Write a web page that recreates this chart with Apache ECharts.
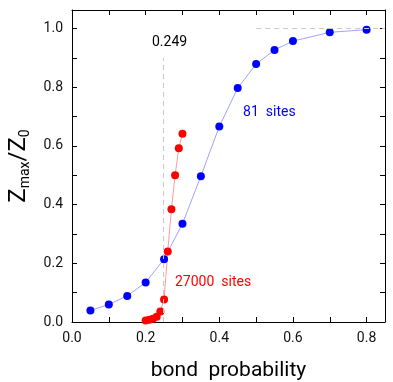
<!DOCTYPE html>
<html>
<head>
<meta charset="utf-8">
<script src="https://cdn.jsdelivr.net/npm/echarts@6/dist/echarts.min.js"></script>
<style>
  html, body { margin: 0; padding: 0; background: #fff; }
  #chart { width: 393px; height: 382px; }
</style>
</head>
<body>
<div id="chart"></div>
<script>
// bond probability vs Zmax/Z0
const smallP = [0.05, 0.10, 0.15, 0.20, 0.25, 0.30, 0.35, 0.40, 0.45, 0.50, 0.55, 0.60, 0.70, 0.80]
const smallZ = [0.039, 0.060, 0.089, 0.135, 0.214, 0.335, 0.497, 0.666, 0.797, 0.879, 0.927, 0.957, 0.987, 0.996]
const largeP = [0.20, 0.21, 0.22, 0.23, 0.24, 0.25, 0.26, 0.27, 0.28, 0.29, 0.30]
const largeZ = [0.005, 0.008, 0.011, 0.018, 0.036, 0.077, 0.240, 0.384, 0.500, 0.592, 0.641]
const pc = 0.249

const font = 'Roboto'
let chart = echarts.init(document.getElementById('chart'))

function pairs (xs, ys) {
  return xs.map((x, i) => [x, ys[i]])
}

function evenLabel (v) {
  let k = Math.round(v * 10)
  if (Math.abs(v * 10 - k) > 1e-6 || k % 2 !== 0) return ''
  return v.toFixed(1)
}

function textMark (text, coord, color) {
  return {
    coord: coord,
    symbol: 'circle',
    symbolSize: 0,
    label: { show: true, position: 'inside', formatter: text, color: color, fontSize: 14, fontFamily: font }
  }
}

let axisLine = { show: true, onZero: false, lineStyle: { color: '#000', width: 1 } }
let axisTick = { show: true, inside: true, length: 5, lineStyle: { color: '#000' } }

let option = {
  animation: false,
  grid: { left: 72, right: 8, top: 10, bottom: 60, containLabel: false, outerBoundsMode: 'none' },
  xAxis: [
    {
      type: 'value', min: 0, max: 0.85, interval: 0.1,
      axisLine: axisLine, axisTick: axisTick, splitLine: { show: false },
      axisLabel: { formatter: evenLabel, color: '#111', fontSize: 14, fontFamily: font, margin: 9 },
      name: 'bond  probability', nameLocation: 'middle', nameGap: 38,
      nameTextStyle: { color: '#000', fontSize: 21, fontFamily: font }
    },
    {
      type: 'value', position: 'top', min: 0, max: 0.85, interval: 0.1,
      axisLine: axisLine, axisTick: axisTick, splitLine: { show: false },
      axisLabel: { show: false }
    }
  ],
  yAxis: [
    {
      type: 'value', min: 0, max: 1.063, interval: 0.1,
      axisLine: axisLine, axisTick: axisTick, splitLine: { show: false },
      axisLabel: { formatter: evenLabel, color: '#111', fontSize: 14, fontFamily: font, margin: 9 },
      name: '{a|Z}{s|max}{a|/Z}{s|0}', nameLocation: 'middle', nameGap: 40,
      nameTextStyle: {
        color: '#000',
        rich: {
          a: { fontSize: 24, fontFamily: font, color: '#000', lineHeight: 26 },
          s: { fontSize: 14, fontFamily: font, color: '#000', verticalAlign: 'bottom', lineHeight: 20 }
        }
      }
    },
    {
      type: 'value', position: 'right', min: 0, max: 1.063, interval: 0.1,
      axisLine: axisLine, axisTick: axisTick, splitLine: { show: false },
      axisLabel: { show: false }
    }
  ],
  series: [
    {
      name: '81 sites',
      type: 'line',
      data: pairs(smallP, smallZ),
      symbol: 'circle',
      symbolSize: 8,
      itemStyle: { color: '#0000ff' },
      lineStyle: { color: '#a0a0ff', width: 1 },
      markLine: {
        silent: true, symbol: 'none',
        lineStyle: { color: '#c8c8c8', type: [5, 4], width: 1 },
        label: { show: false },
        data: [
          [{ coord: [pc, 0] }, { coord: [pc, 0.9] }],
          [{ coord: [0.5, 1.0] }, { coord: [0.85, 1.0] }]
        ]
      },
      markPoint: {
        silent: true,
        data: [
          textMark('0.249', [0.265, 0.952], '#000'),
          textMark('81  sites', [0.536, 0.714], '#0000ff')
        ]
      }
    },
    {
      name: '27000 sites',
      type: 'line',
      data: pairs(largeP, largeZ),
      symbol: 'circle',
      symbolSize: 8,
      itemStyle: { color: '#ff0000' },
      lineStyle: { color: '#ff9a9a', width: 1 },
      markPoint: {
        silent: true,
        data: [
          textMark('27000  sites', [0.383, 0.134], '#ff0000')
        ]
      }
    }
  ]
}
chart.setOption(option, true)
</script>
</body>
</html>
